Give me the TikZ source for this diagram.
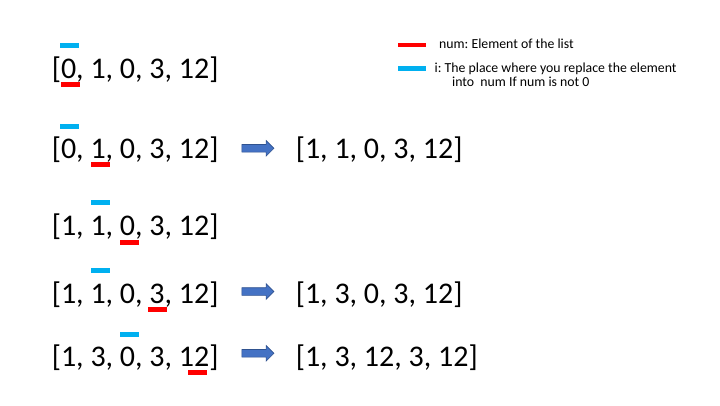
\documentclass[tikz,border=0pt]{standalone}
\usepackage{fontspec}
\setmainfont{Carlito}
\usetikzlibrary{shapes.arrows}
\definecolor{numred}{HTML}{FF0000}
\definecolor{iblue}{HTML}{00B0F0}
\definecolor{arrowfill}{HTML}{4472C4}
\definecolor{arrowline}{HTML}{2F528F}
\frenchspacing

\begin{document}
\begin{tikzpicture}[x=1pt,y=-1pt,
  list/.style={anchor=base west, inner sep=0pt, font=\fontsize{30}{36}\selectfont},
  legend/.style={anchor=base west, inner sep=0pt, font=\fontsize{13.8}{16}\selectfont},
  numbar/.style={fill=numred},
  ibar/.style={fill=iblue},
  blockarrow/.style={single arrow, draw=arrowline, fill=arrowfill, line width=0.6pt,
    minimum height=32pt, single arrow head extend=4pt, inner sep=0pt, inner ysep=3.5pt}]

\useasboundingbox (0,0) rectangle (720,405);

% legend
\fill[numbar] (398,42.7) rectangle (426,46.7);
\fill[ibar] (398,66) rectangle (426,70.7);
\node[legend] (numlegend) at (439,48.5) {num: Element of the list};
\node[legend] (ilegend) at (434.5,72.3) {i: The place where you replace the element};
\node[legend] (ilegendb) at (452,86.8) {into\ \ num If num is not 0};

% lists
\node[list] (l1) at (51.6,78.5) {[0, 1, 0, 3, 12]};
\node[list] (l2) at (51.6,158.3) {[0, 1, 0, 3, 12]};
\node[list] (l3) at (51.6,235) {[1, 1, 0, 3, 12]};
\node[list] (l4) at (51.6,303) {[1, 1, 0, 3, 12]};
\node[list] (l5) at (51.6,366.7) {[1, 3, 0, 3, 12]};

\node[list] (r2) at (295.6,158.3) {[1, 1, 0, 3, 12]};
\node[list] (r4) at (295.6,303) {[1, 3, 0, 3, 12]};
\node[list] (r5) at (295.6,366.7) {[1, 3, 12, 3, 12]};

% bars
\fill[ibar] (60,42.5) rectangle ++(19,5);
\fill[numbar] (61,81.5) rectangle ++(19,5);
\fill[ibar] (60,124) rectangle ++(19,5);
\fill[numbar] (90.5,162) rectangle ++(19,5);
\fill[ibar] (90.5,199.5) rectangle ++(19,5);
\fill[numbar] (119.5,239.5) rectangle ++(19,5);
\fill[ibar] (90.5,267.5) rectangle ++(19,5);
\fill[numbar] (147.5,307) rectangle ++(19,5);
\fill[ibar] (119.5,331.5) rectangle ++(19,5);
\fill[numbar] (187.5,369.5) rectangle ++(19,5);

% arrows
\node[blockarrow] (a2) at (256,148.3) {};
\node[blockarrow] (a4) at (256,291.5) {};
\node[blockarrow] (a5) at (256,353.3) {};

\end{tikzpicture}
\end{document}
